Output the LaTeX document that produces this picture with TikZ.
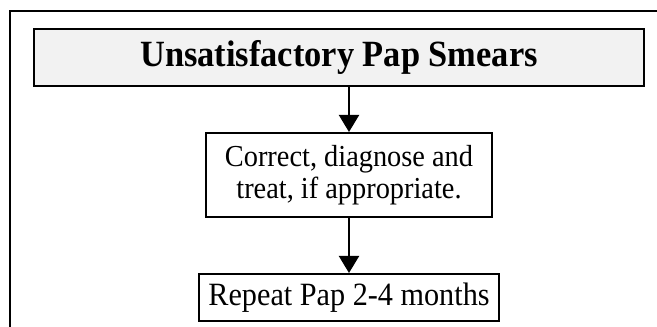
\documentclass[tikz,border=0pt]{standalone}
\usepackage{fontspec}
\setmainfont[FakeStretch=0.93]{Liberation Serif}
\usetikzlibrary{positioning, arrows.meta, calc}

\begin{document}
\begin{tikzpicture}[x=1pt, y=1pt,
    box/.style={draw=black, line width=2pt, inner sep=0pt, align=center},
    flow/.style={draw=black, line width=2pt, -{Triangle[width=20pt,length=17pt]}}]
    \useasboundingbox (0,0) rectangle (657,327);

    % frame
    \draw[black, line width=2pt] (10,-5) -- (10,316) -- (670,316);

    % boxes
    \node[box, fill=black!5, minimum width=610pt, minimum height=57pt,
        font=\bfseries\fontsize{37}{40}\selectfont] (title) at (339,269.5)
        {Unsatisfactory Pap Smears};
    \node[box, minimum width=286pt, minimum height=84pt,
        font=\fontsize{30.5}{32}\selectfont] (correct) at (349,152)
        {Correct, diagnose and\\treat, if appropriate.};
    \node[box, minimum width=300pt, minimum height=47pt,
        font=\fontsize{32.5}{34}\selectfont] (repeat) at (349,29.5)
        {Repeat Pap 2-4 months};

    % arrows
    \draw[flow] (title.south -| correct.north) -- (correct.north);
    \draw[flow] (correct) -- (repeat);
\end{tikzpicture}
\end{document}
